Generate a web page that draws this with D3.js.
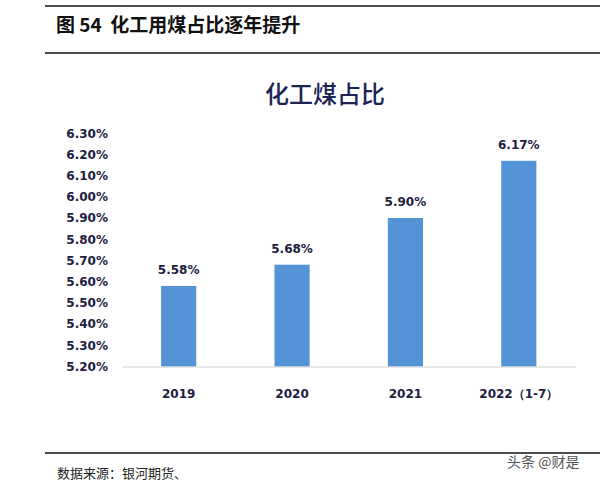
<!DOCTYPE html>
<html>
<head>
<meta charset="utf-8">
<script src="https://cdn.jsdelivr.net/npm/d3@7"></script>
<style>
html,body{margin:0;padding:0;background:#fff;}
svg{display:block;}
</style>
</head>
<body>
<svg id="c" width="600" height="483"></svg>
<script>
const categories = ["2019", "2020", "2021", "2022（1-7）"];
const values = [5.58, 5.68, 5.90, 6.17];
const yTicks = [5.2, 5.3, 5.4, 5.5, 5.6, 5.7, 5.8, 5.9, 6.0, 6.1, 6.2, 6.3];
const headerTitle = "图 54  化工用煤占比逐年提升";
const chartTitle = "化工煤占比";
const sourceText = "数据来源：银河期货、";
const watermark = "头条 @财是";

const svg = d3.select("#c");
const cjk = "'Noto Sans CJK SC', 'Noto Sans', sans-serif";
const num = "'DejaVu Sans', sans-serif";

// header rules
[6, 53, 453].forEach(y => {
  svg.append("line").attr("x1", 45).attr("x2", 600).attr("y1", y).attr("y2", y)
    .attr("stroke", "#111").attr("stroke-width", 1.5);
});

svg.append("text").attr("x", 56).attr("y", 32)
  .attr("font-family", cjk).attr("font-weight", 700).attr("font-size", 19)
  .attr("fill", "#111").attr("xml:space", "preserve").text(headerTitle);

svg.append("text").attr("x", 325).attr("y", 103).attr("text-anchor", "middle")
  .attr("font-family", cjk).attr("font-weight", 500).attr("font-size", 24)
  .attr("fill", "#1c2454").text(chartTitle);

const x = d3.scaleBand().domain(categories).range([122, 575.5])
  .paddingInner(0.69).paddingOuter(0.345);
const y = d3.scaleLinear().domain([5.2, 6.3]).range([366.5, 133.2]);

// y axis labels
const yAxis = d3.axisLeft(y).tickValues(yTicks).tickSize(0).tickPadding(0)
  .tickFormat(d => d.toFixed(2) + "%");
const yg = svg.append("g").attr("transform", "translate(108,0)").call(yAxis);
yg.select(".domain").remove();
yg.selectAll("text").attr("font-family", num).attr("font-weight", 700)
  .attr("font-size", 12).attr("fill", "#1c2040");

// bars
svg.append("g").selectAll("rect").data(values).join("rect")
  .attr("x", (d, i) => x(categories[i]))
  .attr("width", x.bandwidth())
  .attr("y", d => y(d))
  .attr("height", d => y(5.2) - y(d))
  .attr("fill", "#5393d6");

// baseline
const xAxis = d3.axisBottom(x).tickSize(0).tickPadding(0);
const xg = svg.append("g").attr("transform", "translate(0," + y(5.2) + ")").call(xAxis);
xg.select(".domain").attr("stroke", "#d0d0d0").attr("stroke-width", 1);
xg.selectAll("text").attr("font-family", num).attr("font-weight", 700)
  .attr("font-size", 12).attr("fill", "#1c2040").attr("dy", 0).attr("y", 31);

// value labels
svg.append("g").selectAll("text").data(values).join("text")
  .attr("x", (d, i) => x(categories[i]) + x.bandwidth() / 2)
  .attr("y", d => y(d) - 12)
  .attr("text-anchor", "middle")
  .attr("font-family", num).attr("font-weight", 700).attr("font-size", 12)
  .attr("fill", "#1c2040")
  .text(d => d.toFixed(2) + "%");

// footer
svg.append("text").attr("x", 57).attr("y", 478)
  .attr("font-family", cjk).attr("font-size", 13).attr("fill", "#222").text(sourceText);

svg.append("text").attr("x", 507).attr("y", 467)
  .attr("font-family", cjk).attr("font-size", 14).attr("fill", "#555").text(watermark);
</script>
</body>
</html>
